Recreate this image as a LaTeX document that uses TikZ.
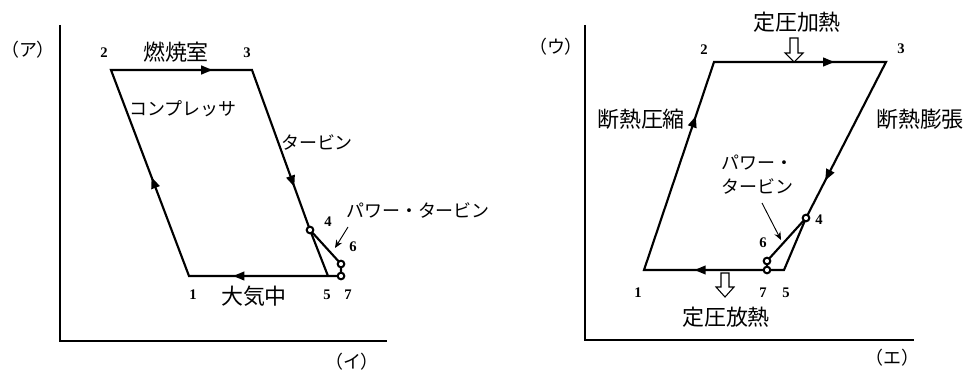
\documentclass[tikz,border=0pt]{standalone}
\usepackage{fontspec}
\setmainfont{Liberation Serif}
\newfontfamily\jpfont{Noto Sans CJK JP}
\usetikzlibrary{arrows.meta,decorations.markings}

\tikzset{
  axis/.style={line width=2pt},
  cyc/.style={line width=1.6pt},
  flow/.style={postaction={decorate},
    decoration={markings,mark=at position #1 with {\arrow{Triangle[length=8.5pt,width=6.5pt]}}}},
  kanji/.style={font=\jpfont\fontsize{16.5}{18}\selectfont,inner sep=0pt},
  kana/.style={font=\jpfont\fontsize{13.5}{18}\selectfont,inner sep=0pt},
  num/.style={font=\bfseries\fontsize{11}{12}\selectfont,inner sep=0pt},
  dot/.style={circle,draw,fill=white,line width=1.5pt,minimum size=5pt,inner sep=0pt},
  hollow/.style={draw,fill=white,line width=0.8pt,line join=miter},
  pointer/.style={-{Stealth[length=6pt,width=5pt]},line width=0.7pt},
}

\begin{document}
\begin{tikzpicture}[x=0.0264cm,y=-0.0264cm]
\useasboundingbox (0,0) rectangle (968,371);

% left cycle
\coordinate (La) at (60,25);
\coordinate (Lo) at (60,341);
\coordinate (Lx) at (387,341);
\draw[axis] (La) -- (Lo) -- (Lx);
\node[kana] (Lyl) at (28,50) {（ア）};
\node[kana] (Lxl) at (352,362) {（イ）};

\coordinate (L1) at (189,276);
\coordinate (L2) at (111,70);
\coordinate (L3) at (252,70);
\coordinate (L4) at (310,230);
\coordinate (L5) at (328,276);
\coordinate (L6) at (341,264);
\coordinate (L7) at (341,276);
\draw[cyc] (L7) -- (L1) -- (L2) -- (L3) -- (L4) -- (L5);
\draw[cyc] (L4) -- (L6) -- (L7);
\path[cyc,flow=0.48] (L1) -- (L2);
\path[cyc,flow=0.72] (L2) -- (L3);
\path[cyc,flow=0.73] (L3) -- (L4);
\path[cyc,flow=0.71] (L7) -- (L1);
\node[dot] (L4d) at (L4) {};
\node[dot] (L6d) at (L6) {};
\node[dot] (L7d) at (L7) {};

\node[num] (Ln2) at (104,53) {2};
\node[num] (Ln3) at (247,53) {3};
\node[num] (Ln4) at (328,222) {4};
\node[num] (Ln6) at (353,247) {6};
\node[num] (Ln1) at (193,295) {1};
\node[num] (Ln5) at (327,295) {5};
\node[num] (Ln7) at (348,295) {7};

\node[kanji] (Lburn) at (176,52) {燃焼室};
\node[kana] (Lcomp) at (183,109) {コンプレッサ};
\node[kana] (Lturb) at (317,142) {タービン};
\node[kana] (Lpow) at (418,210) {パワー・タービン};
\node[kanji] (Latm) at (254,296) {大気中};
\coordinate (Lpa) at (348,227);
\coordinate (Lpb) at (335,248);
\draw[pointer] (Lpa) -- (Lpb);

% right cycle
\coordinate (Ra) at (585,25);
\coordinate (Ro) at (585,340);
\coordinate (Rx) at (914,340);
\draw[axis] (Ra) -- (Ro) -- (Rx);
\node[kana] (Ryl) at (556,47) {（ウ）};
\node[kana] (Rxl) at (892,358) {（エ）};

\coordinate (R1) at (644,270);
\coordinate (R2) at (714,62);
\coordinate (R3) at (886,62);
\coordinate (R4) at (806,218);
\coordinate (R5) at (784,270);
\coordinate (R6) at (767,261);
\coordinate (R7) at (767,270);
\draw[cyc] (R5) -- (R1) -- (R2) -- (R3) -- (R4) -- (R5) -- cycle;
\draw[cyc] (R4) -- (R6) -- (R7);
\path[cyc,flow=0.74] (R1) -- (R2);
\path[cyc,flow=0.70] (R2) -- (R3);
\path[cyc,flow=0.76] (R3) -- (R4);
\path[cyc,flow=0.64] (R5) -- (R1);
\node[dot] (R4d) at (R4) {};
\node[dot] (R6d) at (R6) {};
\node[dot] (R7d) at (R7) {};

\node[num] (Rn2) at (704,50) {2};
\node[num] (Rn3) at (901,49) {3};
\node[num] (Rn4) at (819,220) {4};
\node[num] (Rn6) at (763,243) {6};
\node[num] (Rn1) at (638,293) {1};
\node[num] (Rn7) at (763,293) {7};
\node[num] (Rn5) at (786,293) {5};

\node[kanji] (Rheat) at (797,22) {定圧加熱};
\node[kanji] (Rcomp) at (641,119) {断熱圧縮};
\node[kanji] (Rexp) at (920,119) {断熱膨張};
\node[kana,align=left,anchor=west] (Rpow) at (721,175) {パワー・\\タービン};
\node[kanji] (Rcool) at (726,317) {定圧放熱};
\coordinate (Rpa) at (762,203);
\coordinate (Rpb) at (781,240);
\draw[pointer] (Rpa) -- (Rpb);

% heat in / out
\draw[hollow,shift={(794,38)}] (-4,0) -- (4,0) -- (4,15) -- (9,15) -- (0,24) -- (-9,15) -- (-4,15) -- cycle;
\draw[hollow,shift={(725,273)}] (-4,0) -- (4,0) -- (4,14) -- (9,14) -- (0,24) -- (-9,14) -- (-4,14) -- cycle;
\end{tikzpicture}
\end{document}
